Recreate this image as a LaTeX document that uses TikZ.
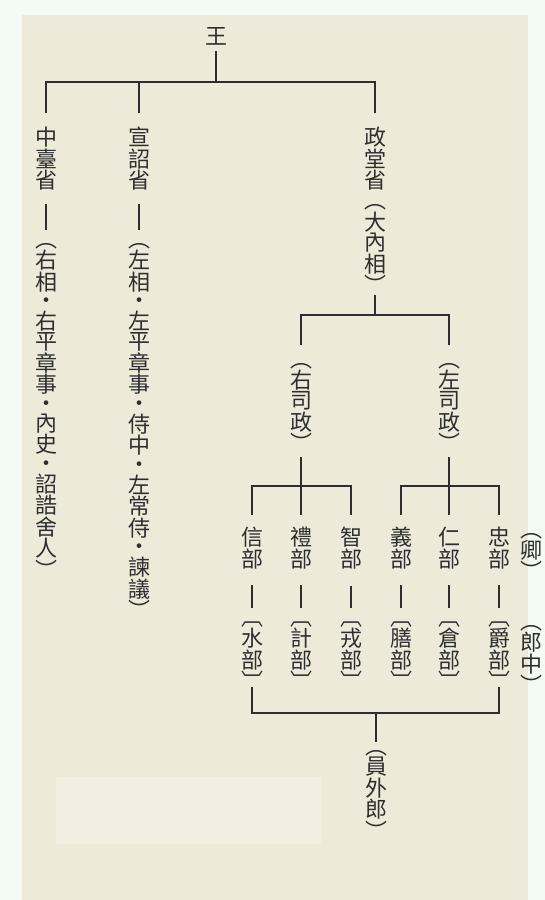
\documentclass[tikz,border=0pt]{standalone}
\usepackage{fontspec}
\newfontfamily\cjk{Noto Sans CJK TC}
\usepackage{tikz}
\definecolor{outerbg}{HTML}{F4FBF7}
\definecolor{paper}{HTML}{EEEADA}
\definecolor{patch}{HTML}{F2EEE1}
\definecolor{ink}{HTML}{2E2E2E}
\makeatletter
\def\vt@dot{・}
\newcommand{\vcell}[3]{\hbox to 20pt{\hss\vrule width 0pt height #1 depth #2\relax #3\hss}}
\newcommand{\vtext}[1]{\vbox{\offinterlineskip\@tfor\vt@c:=#1\do{%
  \ifx\vt@c\vt@dot\vcell{15.8pt}{2.2pt}{\vt@c}\else\vcell{17pt}{3pt}{\vt@c}\fi}}}
\makeatother

\begin{document}
\begin{tikzpicture}[x=1pt, y=-1pt,
    office/.style={inner sep=0pt, text=ink, font=\cjk\fontsize{22}{20}\selectfont},
    link/.style={draw=ink, line width=1.9pt}]
  \useasboundingbox (0,0) rectangle (545,900);
  \fill[outerbg] (0,0) rectangle (545,900);
  \fill[paper] (22,15) rectangle (528,900);
  \fill[patch] (56,777) rectangle (321,844);

  \node[office] (wang) at (216,37) {\vtext{王}};
  \node[office, anchor=north] (zt) at (46,127) {\vtext{中臺省}};
  \node[office, anchor=north] (xz) at (139,127) {\vtext{宣詔省}};
  \node[office, anchor=north] (zd) at (375,127) {\vtext{政堂省︵大內相︶}};
  \node[office, anchor=north] (ztg) at (46,230) {\vtext{︵右相・右平章事・內史・詔誥舍人︶}};
  \node[office, anchor=north] (xzg) at (139,230) {\vtext{︵左相・左平章事・侍中・左常侍・諫議︶}};
  \node[office, anchor=north] (you) at (301,350) {\vtext{︵右司政︶}};
  \node[office, anchor=north] (zuo) at (449,350) {\vtext{︵左司政︶}};
  \node[office, anchor=north] (qing) at (531,520) {\vtext{︵卿︶}};
  \node[office, anchor=north] (lang) at (531,612) {\vtext{︵郎中︶}};
  \node[office, anchor=north] (ywl) at (376,737) {\vtext{︵員外郎︶}};

  \coordinate (bar1) at (216,82);
  \coordinate (bar2) at (375,315);
  \coordinate (bar3l) at (301,486);
  \coordinate (bar3r) at (449,486);
  \coordinate (bar4) at (376,713);

  \draw[link, shorten <=4pt] (wang.south) -- (bar1);
  \draw[link, shorten <=14pt, shorten >=14pt] (zt.north) |- (bar1) -| (zd.north);
  \draw[link, shorten >=14pt] (xz.north |- bar1) -- (xz.north);
  \draw[link, shorten <=12pt] (zt.south) -- (ztg.north);
  \draw[link, shorten <=12pt] (xz.south) -- (xzg.north);
  \draw[link, shorten <=-2pt] (zd.south) -- (bar2);
  \draw[link, shorten <=5pt, shorten >=5pt] (you.north) |- (bar2) -| (zuo.north);

  \foreach \x/\bu/\sb [count=\i] in {252/信/水, 301/禮/計, 351/智/戎, 401/義/膳, 449/仁/倉, 499/忠/爵} {
    \node[office, anchor=north] (bu\i) at (\x,527) {\vtext{{\bu}部}};
    \node[office, anchor=north] (sub\i) at (\x,608) {\vtext{︹{\sb}部︺}};
    \draw[link, shorten <=15pt] (bu\i.south) -- (sub\i.north);
  }

  \draw[link, shorten <=2pt, shorten >=12pt] (you.south) -- (bu2.north);
  \draw[link, shorten <=2pt, shorten >=12pt] (zuo.south) -- (bu5.north);
  \draw[link, shorten <=12pt, shorten >=12pt] (bu1.north) |- (bar3l) -| (bu3.north);
  \draw[link, shorten <=12pt, shorten >=12pt] (bu4.north) |- (bar3r) -| (bu6.north);
  \draw[link, shorten <=-6pt, shorten >=-6pt] (sub1.south) |- (bar4) -| (sub6.south);
  \draw[link, shorten >=-5pt] (bar4) -- (ywl.north);
\end{tikzpicture}
\end{document}
